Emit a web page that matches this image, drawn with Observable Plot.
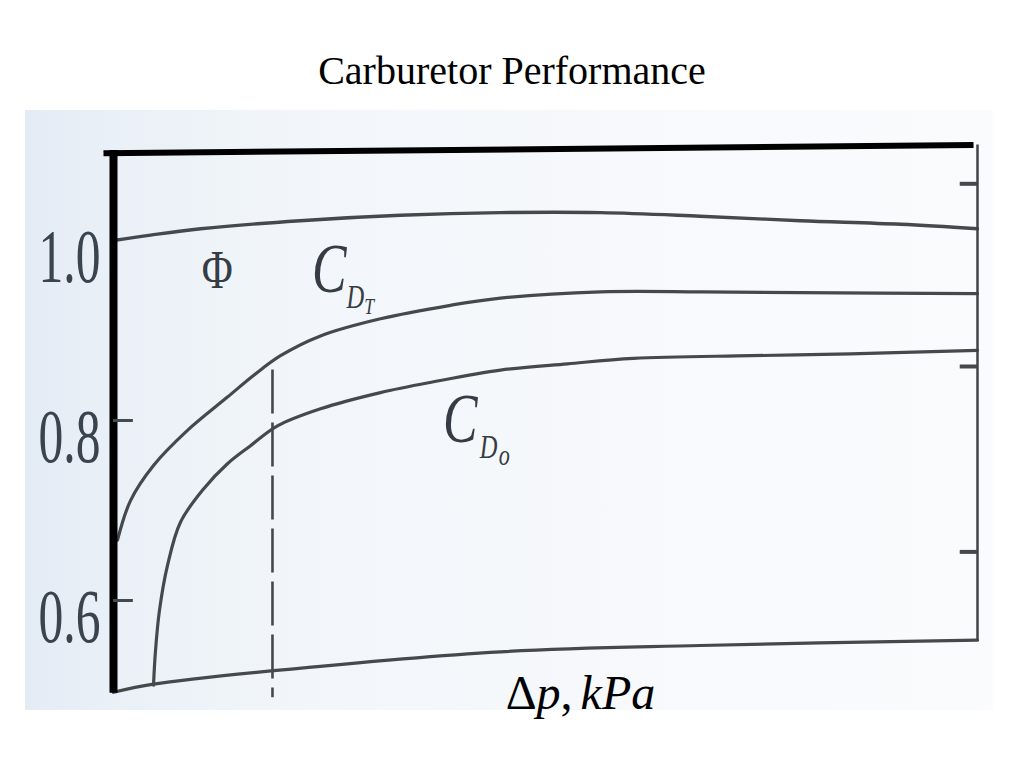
<!DOCTYPE html>
<html>
<head>
<meta charset="utf-8">
<script src="https://cdn.jsdelivr.net/npm/d3@7"></script>
<script src="https://cdn.jsdelivr.net/npm/@observablehq/plot@0.6"></script>
<style>
  html, body { margin: 0; padding: 0; background: #fff; }
  #title { height: 110px; box-sizing: border-box; padding-top: 51px; text-align: center;
           font: 40px/1 "Liberation Serif", "Times New Roman", serif; color: #000; }
</style>
</head>
<body>
<div id="title">Carburetor Performance</div>
<div id="chart"></div>
<script>
// Δp axis (arbitrary relative units, 0–100) and coefficient values
const phiX = [0, 4.3, 10.1, 21.6, 33.2, 44.8, 56.4, 67.9, 79.5, 91.1, 100];
const phiY = [1.000, 1.006, 1.013, 1.022, 1.028, 1.031, 1.031, 1.027, 1.022, 1.018, 1.013];

const cdtX = [0.46, 1.97, 4.63, 8.56, 13.19, 16.20, 19.33, 23.96, 30.90, 39.00, 44.79, 56.37, 67.94, 79.51, 100];
const cdtY = [0.667, 0.711, 0.750, 0.789, 0.826, 0.850, 0.872, 0.894, 0.913, 0.928, 0.936, 0.943, 0.943, 0.942, 0.941];

const cdoX = [4.63, 4.86, 5.32, 6.25, 7.75, 10.42, 13.19, 15.86, 18.98, 23.96, 30.90, 37.04, 44.79, 52.55, 60.19, 73.73, 85.30, 100];
const cdoY = [0.506, 0.544, 0.589, 0.639, 0.687, 0.724, 0.752, 0.772, 0.794, 0.813, 0.831, 0.843, 0.856, 0.863, 0.869, 0.872, 0.874, 0.878];

const baseX = [0, 4.63, 18.52, 44.79, 67.94, 100];
const baseY = [0.498, 0.507, 0.522, 0.543, 0.550, 0.556];

const yTicks = [0.6, 0.8, 1.0];
const leftTicks = [0.8, 0.6];
const rightTicks = [1.063, 0.860, 0.654];
const dashedAt = [18.4];
const xLabel = ["Δp, kPa"];
const phiLabel = ["Φ"];
const cdtLabel = ["C", "D", "T"];   // C with subscript D and sub-subscript T
const cdoLabel = ["C", "D", "o"];   // C with subscript D and sub-subscript o

const toRows = (xs, ys) => xs.map((x, i) => ({x, y: ys[i]}));
const ink = "#45494c";
const labelInk = "#363c44";
const serif = "Liberation Serif, Times New Roman, serif";

// anchor (left edge, baseline) of the subscripted labels, in data units
const cdtAt = {x: 23.03, y: 0.9422};
const cdoAt = {x: 38.19, y: 0.7756};

const chart = Plot.plot({
  width: 1024,
  height: 658,
  marginLeft: 113,
  marginRight: 47,
  marginTop: 40,
  marginBottom: 78,
  x: {domain: [0, 100], axis: null},
  y: {domain: [0.5, 1.1], axis: null},
  style: {
    background: "linear-gradient(to right, #ffffff 0px, #ffffff 25px, #e3ebf5 25px, #eaf0f7 110px, #f2f6fa 300px, #f7f9fc 650px, #fafbfd 990px, #ffffff 996px) no-repeat 0 0 / 100% 600px, #ffffff",
    overflow: "visible"
  },
  marks: [
    // curves
    Plot.line(toRows(baseX, baseY), {x: "x", y: "y", stroke: ink, strokeWidth: 3.2, curve: "catmull-rom"}),
    Plot.line(toRows(phiX, phiY), {x: "x", y: "y", stroke: ink, strokeWidth: 3.4, curve: "catmull-rom"}),
    Plot.line(toRows(cdtX, cdtY), {x: "x", y: "y", stroke: ink, strokeWidth: 3.2, curve: "catmull-rom"}),
    Plot.line(toRows(cdoX, cdoY), {x: "x", y: "y", stroke: ink, strokeWidth: 3.2, curve: "catmull-rom"}),
    // dashed reference line
    Plot.ruleX(dashedAt, {y1: 0.856, y2: 0.492, stroke: ink, strokeWidth: 2.6, strokeDasharray: "44,9"}),
    // frame
    Plot.ruleX([100], {y1: 0.556, y2: 1.106, stroke: "#3f4446", strokeWidth: 2.5}),
    Plot.link([0], {x1: -1.16, y1: 1.097, x2: 99.54, y2: 1.106, stroke: "#000", strokeWidth: 6}),
    Plot.ruleX([0], {y1: 0.497, y2: 1.1, stroke: "#000", strokeWidth: 8}),
    // small ticks
    Plot.ruleY(leftTicks, {x1: 0, x2: 2.3, stroke: ink, strokeWidth: 3}),
    Plot.ruleY(rightTicks, {x1: 98.0, x2: 100, stroke: ink, strokeWidth: 4}),
    // y tick labels
    Plot.text(yTicks, {y: d => d, frameAnchor: "left", text: d => d.toFixed(1), textAnchor: "end",
      dx: -13, dy: 17, fontSize: 76, fontFamily: serif, fill: "#3a444e", ariaDescription: "ylab"}),
    // curve labels
    Plot.text(phiLabel, {x: 12.0, y: 0.966, text: d => d, fontSize: 54, fontFamily: serif, fill: labelInk, ariaDescription: "phi"}),
    Plot.text([cdtLabel], {x: cdtAt.x, y: cdtAt.y, text: d => d.join(""), textAnchor: "start", fontSize: 70,
      fontStyle: "italic", fontFamily: serif, fill: labelInk, ariaDescription: "cdt"}),
    Plot.text([cdoLabel], {x: cdoAt.x, y: cdoAt.y, text: d => d.join(""), textAnchor: "start", fontSize: 70,
      fontStyle: "italic", fontFamily: serif, fill: labelInk, ariaDescription: "cdo"}),
    // x label
    Plot.text(xLabel, {x: 54.05, y: 0.497, text: d => d, fontSize: 48, fontFamily: serif, fill: "#000", ariaDescription: "xlab"})
  ]
});

const svg = d3.select(chart);
svg.selectAll('g[aria-description="ylab"] text').attr("textLength", 62).attr("lengthAdjust", "spacingAndGlyphs");
svg.selectAll('g[aria-description="phi"] text').attr("textLength", 31).attr("lengthAdjust", "spacingAndGlyphs");

// scales used by the plot, to place the condensed labels
function scaleFn(name) {
  const s = chart.scale(name);
  return s.apply ? (v => s.apply(v)) : d3.scaleLinear(s.domain, s.range);
}
const sx = scaleFn("x"), sy = scaleFn("y");

// condensed subscripted labels (the scanned figure is horizontally compressed)
function subscripted(desc, parts, at, subDx, subDy, sub2Dx, sub2Dy, subSize, sub2Size) {
  svg.selectAll(`g[aria-description="${desc}"]`).attr("transform", null);
  svg.selectAll(`g[aria-description="${desc}"] text`).each(function() {
    const t = d3.select(this);
    t.attr("x", null).attr("y", null).attr("dy", null)
     .attr("transform", `translate(${sx(at.x)},${sy(at.y)}) scale(0.74,1)`);
    t.text(null);
    t.append("tspan").text(parts[0]);
    t.append("tspan").attr("font-size", subSize).attr("dx", subDx).attr("dy", subDy).text(parts[1]);
    t.append("tspan").attr("font-size", sub2Size).attr("dx", sub2Dx).attr("dy", sub2Dy).text(parts[2]);
  });
}
subscripted("cdt", cdtLabel, cdtAt, 0, 16, 0, 6, 33, 24);
subscripted("cdo", cdoLabel, cdoAt, 3, 16, 2, 7, 33, 30);

const xl = svg.select('g[aria-description="xlab"] text');
xl.text(null);
xl.append("tspan").text("Δ");
xl.append("tspan").attr("font-style", "italic").text("p");
xl.append("tspan").text(",");
xl.append("tspan").attr("font-style", "italic").attr("dx", 8).text("kPa");

document.getElementById("chart").appendChild(chart);
</script>
</body>
</html>
